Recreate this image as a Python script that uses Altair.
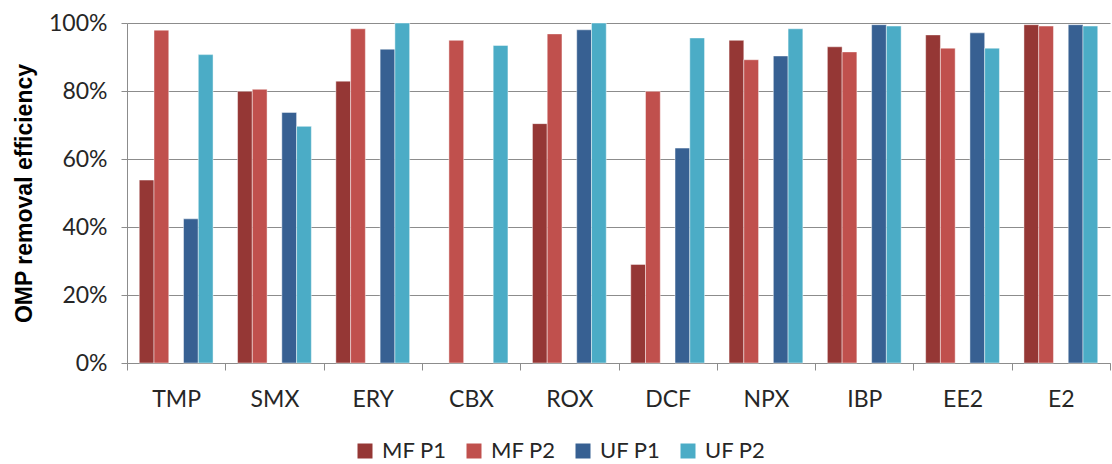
import altair as alt
import pandas as pd

# OMP removal efficiency (%) per compound, membrane and phase
compounds = ["TMP", "SMX", "ERY", "CBX", "ROX", "DCF", "NPX", "IBP", "EE2", "E2"]
series = ["MF P1", "MF P2", "UF P1", "UF P2"]
mf_p1 = [53.8, 79.9, 82.9, None, 70.4, 29.0, 94.9, 93.0, 96.5, 99.5]
mf_p2 = [97.9, 80.5, 98.3, 94.9, 96.8, 79.9, 89.2, 91.5, 92.6, 99.1]
uf_p1 = [42.4, 73.7, 92.3, None, 98.0, 63.2, 90.3, 99.5, 97.1, 99.5]
uf_p2 = [90.7, 69.6, 100.0, 93.4, 100.0, 95.6, 98.3, 99.1, 92.6, 99.1]
colors = ["#953735", "#C0504D", "#376092", "#4BACC6"]
y_ticks = [0, 20, 40, 60, 80, 100]

rows = []
for name, vals in zip(series, [mf_p1, mf_p2, uf_p1, uf_p2]):
    for c, v in zip(compounds, vals):
        rows.append({"compound": c, "series": name, "value": v})
df = pd.DataFrame(rows)

FONT = "Lato"
TXT = "#262626"
GRID = "#8c8c8c"

bars = alt.Chart(df).mark_bar(
    stroke="#ffffff", strokeOpacity=0.45, strokeWidth=1
).encode(
    x=alt.X(
        "compound:N",
        sort=compounds,
        scale=alt.Scale(paddingInner=0, paddingOuter=0),
        axis=alt.Axis(
            title=None, labelAngle=0, tickBand="extent", ticks=True,
            tickSize=7, tickColor=GRID, domainColor=GRID, labelPadding=18,
            labelFont=FONT, labelFontSize=23, labelColor=TXT, grid=False,
        ),
    ),
    xOffset=alt.XOffset(
        "series:N",
        scale=alt.Scale(
            domain=["MF P1", "MF P2", "gap", "UF P1", "UF P2"],
            paddingInner=0, paddingOuter=0.83,
        ),
    ),
    y=alt.Y(
        "value:Q",
        scale=alt.Scale(domain=[0, 100], nice=False),
        axis=alt.Axis(
            title="OMP removal efficiency", values=y_ticks,
            labelExpr="datum.value + '%'", tickSize=6, tickColor=GRID,
            domainColor=GRID, gridColor=GRID, gridWidth=1, labelPadding=14,
            labelFont=FONT, labelFontSize=23, labelColor=TXT,
            titleFont="Liberation Sans", titleFontSize=23,
            titleFontWeight="bold", titleColor="#000000", titlePadding=12,
        ),
    ),
    color=alt.Color(
        "series:N",
        scale=alt.Scale(domain=series, range=colors),
        legend=alt.Legend(
            title=None, orient="none", direction="horizontal",
            legendX=227, legendY=417, padding=0, symbolType="square",
            symbolSize=225, symbolStrokeWidth=0, labelFont=FONT,
            labelFontSize=22, labelColor=TXT, labelOffset=6,
            columnPadding=16,
        ),
    ),
).properties(
    width=983,
    height=340,
    autosize=alt.AutoSizeParams(type="none"),
    padding={"left": 127, "top": 23, "right": 2, "bottom": 101},
).configure_view(stroke=None)

bars.save("out.html", embed_options={"renderer": "svg", "actions": False})
